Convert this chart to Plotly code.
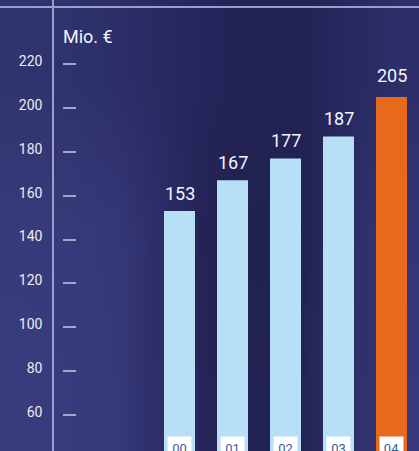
import base64, struct, zlib
import plotly.graph_objects as go

# ---- data ----
years = ["00", "01", "02", "03", "04"]
values = [153, 167, 177, 187, 205]
bar_colors = ["#b7e0f7", "#b7e0f7", "#b7e0f7", "#b7e0f7", "#e8691b"]
tick_vals = [60, 80, 100, 120, 140, 160, 180, 200, 220]
unit_label = "Mio. €"

W, H = 419, 451
ML = 54
PW = W - ML

# ---- background gradient (decorative) as a tiny PNG ----
grad_rows = [
    ["#30346e", "#2f336d", "#2c2f68", "#292a62", "#26255b", "#232256", "#242357", "#28295f", "#2d2f6a"],
    ["#383b7b", "#373a7a", "#353878", "#2c2d66", "#232253", "#222252", "#232253", "#2c2f68", "#333676"],
    ["#3a3d7d", "#393c7c", "#363978", "#2d2e68", "#242456", "#232254", "#242456", "#2e3069", "#35387a"],
]


def make_png(rows):
    h = len(rows)
    w = len(rows[0])
    raw = b""
    for r in rows:
        raw += b"\x00"
        for c in r:
            raw += bytes(int(c[i:i + 2], 16) for i in (1, 3, 5))

    def chunk(t, d):
        c = struct.pack(">I", len(d)) + t + d
        return c + struct.pack(">I", zlib.crc32(t + d) & 0xffffffff)

    png = b"\x89PNG\r\n\x1a\n"
    png += chunk(b"IHDR", struct.pack(">IIBBBBB", w, h, 8, 2, 0, 0, 0))
    png += chunk(b"IDAT", zlib.compress(raw))
    png += chunk(b"IEND", b"")
    return "data:image/png;base64," + base64.b64encode(png).decode()


bg_src = make_png(grad_rows)

FONT = "Roboto"
LINE_COL = "#9c9ec9"
HIGHLIGHT = "#e8691b"

fig = go.Figure()
fig.add_trace(go.Bar(
    x=years, y=values, marker=dict(color=bar_colors, line=dict(width=0)),
    width=31 / 53, hoverinfo="skip", showlegend=False,
))
# invisible helper trace so the tick-mark axis is rendered
fig.add_trace(go.Scatter(
    x=years, y=values, yaxis="y2", mode="markers",
    marker=dict(opacity=0), hoverinfo="skip", showlegend=False,
))

yr = [43.6, 249.2]
x0 = -(125.5 / 53)
xr = [x0, x0 + PW / 53]

annotations = []
for yv, v, c in zip(years, values, bar_colors):
    annotations.append(dict(
        x=yv, y=v, xref="x", yref="y", text=str(v), showarrow=False,
        yanchor="bottom", yshift=9 if c == HIGHLIGHT else 5,
        font=dict(family=FONT, size=18, color="#f4f4fa"),
    ))
    annotations.append(dict(
        x=yv, y=1 - 448 / H, xref="x", yref="paper", text=yv, showarrow=False,
        yanchor="middle", bgcolor="#ffffff", borderpad=3, width=17, height=17,
        font=dict(family=FONT, size=13, color="#3d5c9c"),
    ))
annotations.append(dict(
    x=(61 - ML) / PW, y=1 - 36 / H, xref="paper", yref="paper", text=unit_label,
    showarrow=False, xanchor="left", yanchor="middle",
    font=dict(family=FONT, size=18, color="#f4f4fa"),
))

fig.update_layout(
    width=W, height=H,
    margin=dict(l=ML, r=0, t=0, b=0),
    paper_bgcolor="#2c2e68",
    plot_bgcolor="rgba(0,0,0,0)",
    font=dict(family=FONT),
    xaxis=dict(range=xr, showticklabels=False, showgrid=False, zeroline=False,
               showline=False, ticks="", fixedrange=True),
    yaxis=dict(range=yr, tickvals=tick_vals, ticks="", showgrid=False, zeroline=False,
               showline=True, linecolor=LINE_COL, linewidth=1.5,
               tickfont=dict(family=FONT, size=14, color="#ececf4"),
               ticklabelstandoff=7, ticklabelshift=-3),
    yaxis2=dict(range=yr, overlaying="y", anchor="free", position=22 / PW, side="left",
                tickvals=tick_vals, ticks="outside", ticklen=13, tickwidth=2,
                tickcolor="#a3a5cc", showticklabels=False, showgrid=False,
                zeroline=False, showline=False),
    images=[dict(source=bg_src, xref="paper", yref="paper", x=-ML / PW, y=1,
                 sizex=W / PW, sizey=1, sizing="stretch", xanchor="left",
                 yanchor="top", layer="below")],
    shapes=[dict(type="line", xref="paper", yref="paper", x0=-ML / PW, x1=1,
                 y0=1 - 7 / H, y1=1 - 7 / H, line=dict(color=LINE_COL, width=2))],
    annotations=annotations,
    showlegend=False,
)

fig.write_html("out.html")
